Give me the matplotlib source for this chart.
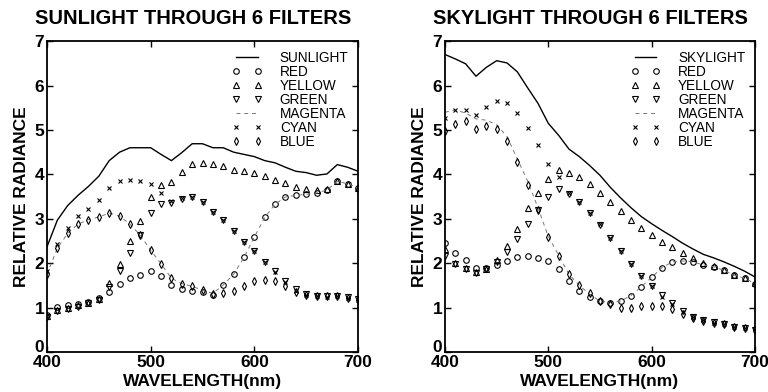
import numpy as np
import matplotlib
matplotlib.use('Agg')
import matplotlib.pyplot as plt
from matplotlib.transforms import ScaledTranslation

plt.rcParams['font.family'] = ['Liberation Sans', 'DejaVu Sans']

# wavelength grid (nm), one reading every 10 nm
wl = list(range(400, 710, 10))

# sunlight through the filters
sun_total = [2.37, 2.97, 3.30, 3.53, 3.73, 3.96, 4.31, 4.50, 4.60, 4.60, 4.60, 4.45, 4.31, 4.49, 4.69, 4.69,
             4.60, 4.60, 4.50, 4.45, 4.40, 4.31, 4.26, 4.16, 4.07, 4.04, 3.98, 4.01, 4.22, 4.16, 4.07]
sun_red = [0.83, 1.02, 1.06, 1.08, 1.12, 1.21, 1.36, 1.53, 1.66, 1.73, 1.82, 1.71, 1.50, 1.43, 1.38, 1.35,
           1.28, 1.50, 1.75, 2.13, 2.59, 3.03, 3.33, 3.49, 3.53, 3.55, 3.58, 3.65, 3.84, 3.79, 3.70]
sun_yellow = [0.80, 0.95, 0.98, 1.05, 1.10, 1.20, 1.56, 1.99, 2.50, 2.95, 3.49, 3.75, 3.83, 4.05, 4.24, 4.26,
              4.24, 4.20, 4.09, 4.07, 4.03, 3.96, 3.88, 3.81, 3.71, 3.68, 3.64, 3.66, 3.84, 3.79, 3.70]
sun_green = [0.78, 0.92, 0.97, 1.02, 1.10, 1.18, 1.47, 1.82, 2.22, 2.63, 3.12, 3.34, 3.36, 3.45, 3.49, 3.38,
             3.15, 2.98, 2.72, 2.48, 2.28, 2.03, 1.83, 1.60, 1.41, 1.30, 1.27, 1.26, 1.27, 1.23, 1.19]
sun_magenta = [1.75, 2.34, 2.67, 2.88, 2.98, 3.04, 3.13, 3.06, 2.88, 2.63, 2.29, 1.99, 1.66, 1.54, 1.48, 1.39,
               1.32, 1.51, 1.75, 2.13, 2.59, 3.03, 3.33, 3.49, 3.53, 3.55, 3.58, 3.65, 3.84, 3.79, 3.70]
sun_cyan = [1.82, 2.44, 2.80, 3.06, 3.22, 3.43, 3.69, 3.84, 3.88, 3.84, 3.79, 3.59, 3.40, 3.46, 3.50, 3.38,
            3.16, 2.98, 2.73, 2.48, 2.27, 2.02, 1.80, 1.57, 1.38, 1.29, 1.26, 1.25, 1.26, 1.22, 1.18]
sun_blue = [1.75, 2.34, 2.67, 2.88, 2.98, 3.04, 3.13, 3.06, 2.88, 2.63, 2.29, 1.99, 1.66, 1.54, 1.48, 1.39,
            1.30, 1.32, 1.38, 1.48, 1.60, 1.63, 1.60, 1.48, 1.36, 1.28, 1.26, 1.26, 1.27, 1.22, 1.18]

# skylight through the filters
sky_total = [6.70, 6.60, 6.49, 6.21, 6.41, 6.56, 6.51, 6.31, 5.95, 5.60, 5.15, 4.88, 4.57, 4.40, 4.20, 3.98,
             3.71, 3.47, 3.25, 3.05, 2.89, 2.74, 2.60, 2.45, 2.32, 2.20, 2.12, 2.03, 1.93, 1.82, 1.69]
sky_red = [2.46, 2.23, 2.07, 1.90, 1.90, 1.96, 2.04, 2.13, 2.16, 2.12, 2.04, 1.88, 1.60, 1.38, 1.23, 1.15,
           1.11, 1.15, 1.27, 1.47, 1.68, 1.90, 2.03, 2.05, 2.03, 1.96, 1.92, 1.84, 1.73, 1.66, 1.54]
sky_yellow = [2.33, 2.01, 1.89, 1.80, 1.88, 2.07, 2.38, 2.76, 3.25, 3.59, 3.90, 4.10, 4.03, 3.94, 3.78, 3.59,
              3.38, 3.17, 2.98, 2.80, 2.63, 2.48, 2.37, 2.23, 2.12, 2.01, 1.93, 1.85, 1.74, 1.67, 1.55]
sky_green = [2.16, 1.99, 1.88, 1.78, 1.86, 2.02, 2.25, 2.55, 2.88, 3.19, 3.50, 3.66, 3.55, 3.38, 3.13, 2.87,
             2.57, 2.27, 1.98, 1.71, 1.48, 1.28, 1.11, 0.93, 0.79, 0.72, 0.67, 0.62, 0.57, 0.53, 0.49]
sky_magenta = [5.40, 5.45, 5.38, 5.25, 5.22, 5.12, 4.85, 4.35, 3.85, 3.25, 2.60, 2.18, 1.75, 1.50, 1.30, 1.15,
               1.11, 1.15, 1.27, 1.47, 1.68, 1.90, 2.03, 2.05, 2.03, 1.96, 1.92, 1.84, 1.73, 1.66, 1.54]
sky_cyan = [5.27, 5.44, 5.46, 5.33, 5.51, 5.65, 5.60, 5.39, 5.05, 4.67, 4.24, 3.94, 3.59, 3.38, 3.14, 2.88,
            2.57, 2.27, 1.99, 1.71, 1.48, 1.25, 1.08, 0.91, 0.78, 0.71, 0.66, 0.62, 0.57, 0.53, 0.49]
sky_blue = [4.97, 5.14, 5.20, 5.03, 5.10, 5.03, 4.76, 4.29, 3.76, 3.20, 2.59, 2.16, 1.75, 1.51, 1.32, 1.16,
            1.08, 1.00, 1.00, 1.03, 1.03, 1.03, 0.96, 0.85, 0.76, 0.70, 0.66, 0.62, 0.57, 0.53, 0.49]


def panel(ax, title, total_name, total, red, yellow, green, magenta, cyan, blue):
    ax.plot(wl, total, '-', color='black', lw=1.0, label=total_name)
    mk = dict(ls='none', color='black', mfc='none', ms=4, mew=0.8)
    ax.plot(wl, red, marker='o', label='RED', **mk)
    ax.plot(wl, yellow, marker='^', label='YELLOW', **mk)
    ax.plot(wl, green, marker='v', label='GREEN', **mk)
    ax.plot(wl, magenta, '--', color='#777777', lw=0.7, dashes=(4, 4), label='MAGENTA')
    ax.plot(wl, cyan, marker='x', label='CYAN', **dict(mk, ms=3.5))
    ax.plot(wl, blue, marker='d', label='BLUE', **mk)

    ax.set_xlim(400, 700)
    ax.set_ylim(0, 7)
    ax.set_xticks([400, 500, 600, 700])
    ax.set_yticks(range(8))
    ax.tick_params(direction='in', top=True, right=True, length=4, width=1,
                   labelsize=12.5, pad=2)
    for lab in ax.get_xticklabels() + ax.get_yticklabels():
        lab.set_fontweight('bold')
    # lift the "0" a little so it sits just above the "400"
    zero = ax.get_yticklabels()[0]
    zero.set_transform(zero.get_transform() + ScaledTranslation(0, 4 / 72, fig.dpi_scale_trans))
    for sp in ax.spines.values():
        sp.set_linewidth(1.3)
    ax.set_xlabel('WAVELENGTH(nm)', fontsize=12.5, fontweight='bold', labelpad=3)
    ax.set_ylabel('RELATIVE RADIANCE', fontsize=12.5, fontweight='bold', labelpad=4)
    ax.set_title(title, fontsize=14.5, fontweight='bold', pad=12, x=0.47)
    ax.legend(loc='upper right', frameon=False, numpoints=2, fontsize=9.8,
              labelspacing=0.0, handlelength=2.2, handletextpad=1.3,
              borderaxespad=0.3)


fig = plt.figure(figsize=(7.68, 3.92), dpi=100)
ax1 = fig.add_axes([0.0612, 0.102, 0.405, 0.793])
ax2 = fig.add_axes([0.5794, 0.102, 0.4036, 0.793])

panel(ax1, 'SUNLIGHT THROUGH 6 FILTERS', 'SUNLIGHT', sun_total, sun_red, sun_yellow,
      sun_green, sun_magenta, sun_cyan, sun_blue)
panel(ax2, 'SKYLIGHT THROUGH 6 FILTERS', 'SKYLIGHT', sky_total, sky_red, sky_yellow,
      sky_green, sky_magenta, sky_cyan, sky_blue)

fig.savefig('out.png', dpi=100)
